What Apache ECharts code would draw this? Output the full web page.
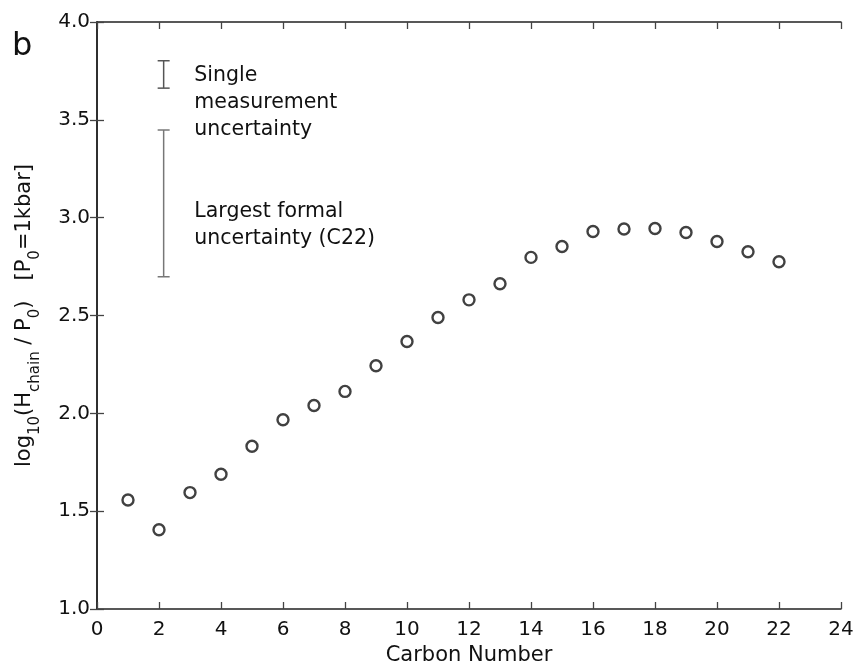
<!DOCTYPE html>
<html>
<head>
<meta charset="utf-8">
<script src="https://cdn.jsdelivr.net/npm/echarts@6/dist/echarts.min.js"></script>
<style>html,body{margin:0;padding:0;background:#fff;}#c{width:856px;height:667px;}</style>
</head>
<body>
<div id="c"></div>
<script>
var carbonNumber = [1, 2, 3, 4, 5, 6, 7, 8, 9, 10, 11, 12, 13, 14, 15, 16, 17, 18, 19, 20, 21, 22];
var logH = [1.557, 1.405, 1.595, 1.689, 1.832, 1.967, 2.040, 2.112, 2.243, 2.367, 2.490, 2.580, 2.662, 2.797, 2.853, 2.929, 2.942, 2.945, 2.924, 2.878, 2.826, 2.775];
var xTicks = [0, 2, 4, 6, 8, 10, 12, 14, 16, 18, 20, 22, 24];
var yTicks = [1.0, 1.5, 2.0, 2.5, 3.0, 3.5, 4.0];
var errX = [2.15, 2.15];
var errLow = [3.662, 2.698];
var errHigh = [3.802, 3.448];
var errColors = ['#555555', '#777777'];
var noteX = [3.14, 3.14];
var noteY = [3.797, 3.099];
var noteText = ['Single\nmeasurement\nuncertainty', 'Largest formal\nuncertainty (C22)'];

var FONT = '"DejaVu Sans", Verdana, sans-serif';
var chart = echarts.init(document.getElementById('c'), null, {renderer: 'canvas'});

var pts = carbonNumber.map(function (c, i) { return [c, logH[i]]; });
var errData = errX.map(function (x, i) { return [x, errLow[i], errHigh[i]]; });
var noteData = noteX.map(function (x, i) { return [x, noteY[i]]; });

function axisCommon(showLabel) {
  return {
    axisLine: {show: true, lineStyle: {color: '#222', width: 1.5}},
    axisTick: {show: true, inside: true, length: 7, lineStyle: {color: '#444', width: 1.3}},
    splitLine: {show: false},
    axisLabel: {show: showLabel, color: '#111', fontSize: 20, fontFamily: FONT}
  };
}

var xMain = Object.assign(axisCommon(true), {
  type: 'value', position: 'bottom', min: 0, max: 24, interval: 2,
  name: 'Carbon Number', nameLocation: 'middle', nameGap: 27,
  nameTextStyle: {fontSize: 21, color: '#111', fontFamily: FONT}
});
xMain.axisLabel.margin = 11;
xMain.axisLabel.formatter = function (v) { return xTicks.indexOf(v) >= 0 ? String(v) : ''; };

var xTop = Object.assign(axisCommon(false), {type: 'value', position: 'top', min: 0, max: 24, interval: 2});

var yMain = Object.assign(axisCommon(true), {
  type: 'value', position: 'left', min: 1.0, max: 4.0, interval: 0.5,
  name: 'log{s|10}(H{s|chain} / P{s|0})   [P{s|0}=1kbar]',
  nameLocation: 'middle', nameGap: 54, nameRotate: 90,
  nameTextStyle: {
    fontSize: 21, color: '#111', fontFamily: FONT, lineHeight: 36,
    rich: {s: {fontSize: 15, color: '#111', fontFamily: FONT, lineHeight: 36, verticalAlign: 'bottom'}}
  }
});
yMain.axisLabel.margin = 7;
yMain.axisLabel.formatter = function (v) { return yTicks.indexOf(v) >= 0 ? v.toFixed(1) : ''; };

var yRight = Object.assign(axisCommon(false), {type: 'value', position: 'right', min: 1.0, max: 4.0, interval: 0.5});

chart.setOption({
  animation: false,
  backgroundColor: '#fff',
  title: {text: 'b', left: 7, top: 26, textStyle: {fontSize: 32, fontWeight: 'normal', color: '#111', fontFamily: FONT}},
  grid: {left: 97, right: 15, top: 22, bottom: 58, containLabel: false, outerBoundsMode: 'none'},
  xAxis: [xMain, xTop],
  yAxis: [yMain, yRight],
  series: [
    {
      type: 'scatter', xAxisIndex: 0, yAxisIndex: 0,
      data: pts, symbol: 'circle', symbolSize: 11,
      itemStyle: {color: 'rgba(255,255,255,0)', borderColor: '#111', borderWidth: 2.4}
    },
    {
      type: 'custom', xAxisIndex: 0, yAxisIndex: 0,
      data: errData,
      renderItem: function (params, api) {
        var lo = api.coord([api.value(0), api.value(1)]);
        var hi = api.coord([api.value(0), api.value(2)]);
        var c = errColors[params.dataIndex];
        var w = 6;
        var st = {stroke: c, lineWidth: 1.5};
        return {type: 'group', children: [
          {type: 'line', shape: {x1: lo[0], y1: lo[1], x2: hi[0], y2: hi[1]}, style: st},
          {type: 'line', shape: {x1: lo[0] - w, y1: lo[1], x2: lo[0] + w, y2: lo[1]}, style: st},
          {type: 'line', shape: {x1: hi[0] - w, y1: hi[1], x2: hi[0] + w, y2: hi[1]}, style: st}
        ]};
      }
    },
    {
      type: 'custom', xAxisIndex: 0, yAxisIndex: 0,
      data: noteData,
      renderItem: function (params, api) {
        var p = api.coord([api.value(0), api.value(1)]);
        return {type: 'text', x: p[0], y: p[1], style: {
          text: noteText[params.dataIndex], fill: '#111', fontSize: 20.5, fontFamily: FONT,
          lineHeight: 27, align: 'left', verticalAlign: 'top'
        }};
      }
    }
  ]
});
</script>
</body>
</html>
